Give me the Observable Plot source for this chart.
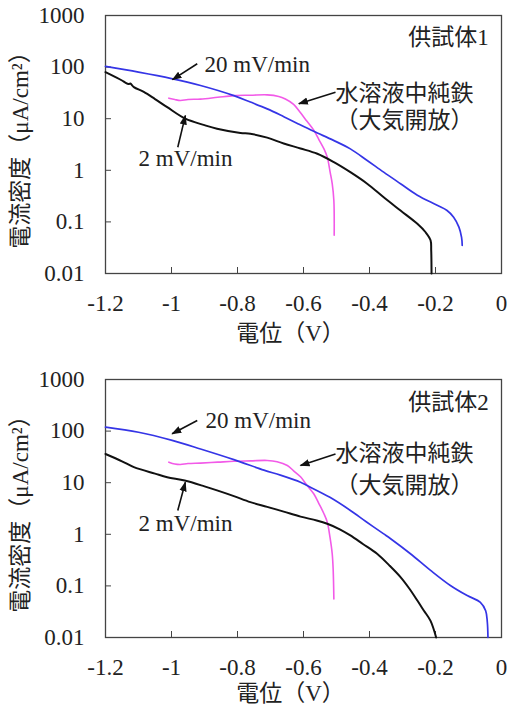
<!DOCTYPE html>
<html><head><meta charset="utf-8">
<script src="https://cdn.jsdelivr.net/npm/d3@7"></script>
<script src="https://cdn.jsdelivr.net/npm/@observablehq/plot@0.6"></script>
<style>
body{margin:0;background:#fff;}
#chart{width:513px;height:711px;overflow:hidden;}
#chart svg{display:block;}
</style></head><body><div id="chart"></div>
<script>
// ---- tick values and texts ----
const xTicks = [-1.2, -1, -0.8, -0.6, -0.4, -0.2, 0];
const yTicks = [0.01, 0.1, 1, 10, 100, 1000];
const panelTitles = ["供試体1", "供試体2"];
const seriesLabels = ["20 mV/min", "2 mV/min", "水溶液中純鉄", "（大気開放）"];
const xLabel = "電位（V）";
const yLabel = "電流密度（μA/cm²）";

// ---- series: [potential V, current density µA/cm²] ----
// panel 1 (供試体1)
const p1Fast = [[-1.2,103],[-1.1,80],[-1.0,60],[-0.912,44],[-0.811,28],[-0.761,21],[-0.71,15.5],[-0.67,11.8],[-0.62,8.2],[-0.569,5.7],[-0.509,3.8],[-0.458,2.6],[-0.407,1.55],[-0.357,0.92],[-0.306,0.55],[-0.255,0.33],[-0.195,0.21],[-0.165,0.166],[-0.145,0.123],[-0.129,0.079],[-0.121,0.05],[-0.119,0.035]];
const p1Slow = [[-1.2,80],[-1.15,55],[-1.14,50],[-1.13,47],[-1.125,48],[-1.114,41],[-1.084,33],[-1.05,24],[-1.013,16.7],[-0.958,10],[-0.9,7.5],[-0.862,6.4],[-0.791,5.3],[-0.761,5.1],[-0.71,4.3],[-0.66,3.3],[-0.609,2.65],[-0.558,2.09],[-0.508,1.44],[-0.458,0.92],[-0.407,0.55],[-0.357,0.3],[-0.306,0.166],[-0.255,0.092],[-0.23,0.063],[-0.215,0.044],[-0.213,0.028],[-0.212,0.01]];
const p1Iron = [[-1.008,25],[-0.99,23.5],[-0.973,22.5],[-0.95,23.5],[-0.912,24],[-0.86,26],[-0.811,28],[-0.76,28.5],[-0.71,29],[-0.675,27],[-0.655,24],[-0.63,19],[-0.609,13],[-0.59,9],[-0.569,6],[-0.553,3.9],[-0.538,2.6],[-0.528,1.8],[-0.519,0.9],[-0.513,0.55],[-0.508,0.26],[-0.507,0.055]];
// panel 2 (供試体2)
const p2Fast = [[-1.2,119],[-1.1,95],[-0.998,66],[-0.912,45],[-0.811,28],[-0.72,17.5],[-0.67,14],[-0.609,10.2],[-0.589,8.8],[-0.52,5.2],[-0.458,2.9],[-0.41,1.75],[-0.357,1.02],[-0.336,0.82],[-0.276,0.42],[-0.215,0.2],[-0.155,0.102],[-0.104,0.065],[-0.064,0.048],[-0.048,0.033],[-0.043,0.02],[-0.041,0.01]];
const p2Slow = [[-1.2,36],[-1.15,26],[-1.114,20],[-1.05,15],[-1.013,12.8],[-0.96,11],[-0.9,8.5],[-0.862,7.1],[-0.811,5.5],[-0.761,4.2],[-0.71,3.4],[-0.66,2.75],[-0.609,2.2],[-0.56,1.85],[-0.528,1.6],[-0.49,1.25],[-0.458,0.95],[-0.42,0.65],[-0.377,0.42],[-0.34,0.25],[-0.306,0.148],[-0.28,0.09],[-0.255,0.052],[-0.235,0.033],[-0.215,0.021],[-0.198,0.01]];
const p2Iron = [[-1.008,25],[-0.99,23],[-0.973,22.5],[-0.95,23.5],[-0.912,24],[-0.86,25],[-0.811,26],[-0.76,26.5],[-0.71,27],[-0.68,25.5],[-0.649,21.5],[-0.63,17],[-0.609,13],[-0.59,9],[-0.569,6.1],[-0.553,3.9],[-0.538,2.5],[-0.528,1.72],[-0.52,0.9],[-0.513,0.42],[-0.51,0.2],[-0.508,0.056]];

// ---- annotation anchors (data coordinates) ----
const p1LabelX = [-0.9, -1.1, -0.503, -0.503];
const p1LabelY = [112, 1.67, 30.3, 9.2];
const p2LabelX = [-0.897, -1.1, -0.503, -0.503];
const p2LabelY = [160, 1.6, 36.3, 8.8];
const titleX = [-0.039, -0.039];
const titleY = [375, 363];
const p1ArrowFrom = [[-0.922,116],[-0.981,2.8],[-0.503,32.7]];
const p1ArrowTo = [[-0.997,57],[-0.958,11.5],[-0.614,19.5]];
const p2ArrowFrom = [[-0.922,160],[-0.981,2.9],[-0.503,36]];
const p2ArrowTo = [[-0.998,89],[-0.958,10.2],[-0.609,21.5]];

const colors = {fast: "#3535e6", slow: "#111111", iron: "#f25ae8"};
const FONT = "'Liberation Serif','Noto Sans CJK JP',serif";

// filled triangular arrow head
function filledHead(color) {
  const m = d3.create("svg:marker")
    .attr("viewBox", "-5 -5 10 10")
    .attr("markerWidth", 10).attr("markerHeight", 10)
    .attr("markerUnits", "userSpaceOnUse")
    .attr("refX", 4).attr("refY", 0)
    .attr("orient", "auto")
    .attr("fill", "#111").attr("stroke", "none");
  m.append("path").attr("d", "M-5,-3.6L5,0L-5,3.6Z");
  return m.node();
}

function panel(i, fast, slow, iron, lx, ly, aFrom, aTo, m) {
  const rows = (arr, s) => arr.map(([x, y]) => ({x, y, s}));
  const data = [...rows(fast, "fast"), ...rows(slow, "slow"), ...rows(iron, "iron")];
  const labels = seriesLabels.map((t, k) => ({t, x: lx[k], y: ly[k]}));
  const arrows = aFrom.map((f, k) => ({x1: f[0], y1: f[1], x2: aTo[k][0], y2: aTo[k][1]}));
  return Plot.plot({
    width: 513, height: m.height,
    marginTop: m.top, marginBottom: m.bottom, marginLeft: 105, marginRight: 12,
    style: {fontFamily: FONT, fontSize: "23px", background: "#fff", color: "#222"},
    x: {domain: [-1.2, 0]},
    y: {type: "log", domain: [0.01, 1000]},
    marks: [
      Plot.frame({stroke: "#444", strokeWidth: 1.3}),
      Plot.axisX(xTicks, {anchor: "bottom", tickSize: 6, dy: -6, tickFormat: () => "", stroke: "#444", label: null}),
      Plot.axisY(yTicks, {anchor: "left", tickSize: 6, dx: 6, tickFormat: () => "", stroke: "#444", label: null}),
      Plot.axisX(xTicks, {anchor: "bottom", tickSize: 0, tickPadding: 21, tickFormat: d => String(d), label: null, fill: "#222"}),
      Plot.axisY(yTicks, {anchor: "left", tickSize: 0, tickPadding: 21, tickFormat: d => String(d), label: null, fill: "#222"}),
      Plot.line(data.filter(d => d.s === "iron"), {x: "x", y: "y", stroke: colors.iron, strokeWidth: 1.6, curve: "catmull-rom"}),
      Plot.line(data.filter(d => d.s === "slow"), {x: "x", y: "y", stroke: colors.slow, strokeWidth: 2, curve: "catmull-rom"}),
      Plot.line(data.filter(d => d.s === "fast"), {x: "x", y: "y", stroke: colors.fast, strokeWidth: 1.7, curve: "catmull-rom"}),
      Plot.link(arrows, {x1: "x1", y1: "y1", x2: "x2", y2: "y2", stroke: "#111", strokeWidth: 1.6, markerEnd: filledHead}),
      Plot.text(labels, {x: "x", y: "y", text: "t", textAnchor: "start", fill: "#222", fontSize: 23}),
      Plot.text([panelTitles[i]], {x: titleX[i], y: titleY[i], text: d => d, textAnchor: "end", fill: "#222", fontSize: 23}),
      Plot.text([xLabel], {frameAnchor: "bottom", lineAnchor: "middle", textAnchor: "middle", dy: m.xlab, dx: -13, text: d => d, fill: "#222", fontSize: 23}),
      Plot.text([yLabel], {frameAnchor: "left", rotate: -90, textAnchor: "middle", lineAnchor: "middle", dx: -85, text: d => d, fill: "#222", fontSize: 23})
    ]
  });
}

const el = document.getElementById("chart");
el.append(
  panel(0, p1Fast, p1Slow, p1Iron, p1LabelX, p1LabelY, p1ArrowFrom, p1ArrowTo, {height: 355, top: 15, bottom: 82, xlab: 60}),
  panel(1, p2Fast, p2Slow, p2Iron, p2LabelX, p2LabelY, p2ArrowFrom, p2ArrowTo, {height: 356, top: 24, bottom: 74, xlab: 56})
);
</script></body></html>
